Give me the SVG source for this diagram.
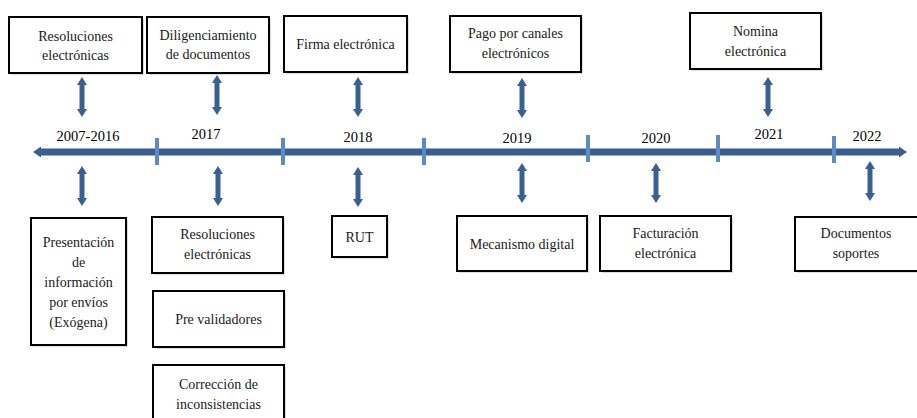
<svg xmlns="http://www.w3.org/2000/svg" width="917" height="418" viewBox="0 0 917 418">
  <style>
    .box { fill: #ffffff; stroke: #000000; stroke-width: 2; }
    .shadow { fill: #c8c8c8; opacity: 0.6; }
    .t { font-family: "Liberation Serif", "Times New Roman", serif; font-size: 14px; fill: #1a1a1a; text-anchor: middle; }
    .yr { font-family: "Liberation Serif", "Times New Roman", serif; font-size: 14.5px; fill: #000000; text-anchor: middle; }
    .tick { stroke: #5b8bc7; stroke-width: 4; }
    .dbl { fill: #3a6090; }
  </style>
  <defs>
    <!-- vertical double-headed arrow, 40px long, origin at top tip -->
    <path id="dblArrow" d="M0,0 L5,8 L2.5,8 L2.5,32 L5,32 L0,40 L-5,32 L-2.5,32 L-2.5,8 L-5,8 Z"/>
  </defs>

  <!-- timeline axis -->
  <g id="timeline">
    <rect x="38" y="148.5" width="862" height="7" fill="#3a5f8e"/>
    <path d="M33,152 L41,146.5 L41,157.5 Z" fill="#3a5f8e"/>
    <path d="M907,152 L899,146.5 L899,157.5 Z" fill="#3a5f8e"/>
    <g>
      <line class="tick" x1="157" y1="138" x2="157" y2="165"/>
      <line class="tick" x1="283" y1="138" x2="283" y2="165"/>
      <line class="tick" x1="424" y1="138" x2="424" y2="165"/>
      <line class="tick" x1="588" y1="135" x2="588" y2="162"/>
      <line class="tick" x1="718" y1="135" x2="718" y2="162"/>
      <line class="tick" x1="834" y1="136" x2="834" y2="163"/>
    </g>
    <text class="yr" x="88" y="141">2007-2016</text>
    <text class="yr" x="206" y="139">2017</text>
    <text class="yr" x="358" y="142">2018</text>
    <text class="yr" x="517" y="143">2019</text>
    <text class="yr" x="656" y="143">2020</text>
    <text class="yr" x="769" y="139">2021</text>
    <text class="yr" x="867" y="141">2022</text>
  </g>

  <!-- connectors between boxes and the axis -->
  <g id="connectors" class="dbl">
    <use href="#dblArrow" x="82" y="77"/>
    <use href="#dblArrow" x="217" y="75"/>
    <use href="#dblArrow" x="358" y="77"/>
    <use href="#dblArrow" x="522" y="78"/>
    <use href="#dblArrow" x="768" y="77"/>
    <use href="#dblArrow" x="82" y="166"/>
    <use href="#dblArrow" x="218" y="166"/>
    <use href="#dblArrow" x="358" y="167"/>
    <use href="#dblArrow" x="522" y="163"/>
    <use href="#dblArrow" x="656" y="163"/>
    <use href="#dblArrow" x="870" y="161"/>
  </g>

  <!-- upper boxes -->
  <g id="n-resoluciones-top">
    <rect class="shadow" x="11" y="19" width="133" height="56"/>
    <rect class="box" x="9" y="17" width="133" height="56"/>
    <text class="t" x="75.5" y="41">Resoluciones</text>
    <text class="t" x="75.5" y="60">electrónicas</text>
  </g>
  <g id="n-diligenciamiento">
    <rect class="shadow" x="149" y="19" width="122" height="56"/>
    <rect class="box" x="147" y="17" width="122" height="56"/>
    <text class="t" x="208" y="40">Diligenciamiento</text>
    <text class="t" x="208" y="59">de documentos</text>
  </g>
  <g id="n-firma">
    <rect class="shadow" x="286" y="18" width="123" height="56"/>
    <rect class="box" x="284" y="16" width="123" height="56"/>
    <text class="t" x="345.5" y="49">Firma electrónica</text>
  </g>
  <g id="n-pago">
    <rect class="shadow" x="452" y="18" width="131" height="56"/>
    <rect class="box" x="450" y="16" width="131" height="56"/>
    <text class="t" x="515.5" y="38">Pago por canales</text>
    <text class="t" x="515.5" y="58">electrónicos</text>
  </g>
  <g id="n-nomina">
    <rect class="shadow" x="692" y="15" width="131" height="56"/>
    <rect class="box" x="690" y="13" width="131" height="56"/>
    <text class="t" x="755.5" y="36">Nomina</text>
    <text class="t" x="755.5" y="56">electrónica</text>
  </g>

  <!-- lower boxes -->
  <g id="n-presentacion">
    <rect class="shadow" x="33" y="220" width="95" height="127"/>
    <rect class="box" x="31" y="218" width="95" height="127"/>
    <text class="t" x="78.5" y="247">Presentación</text>
    <text class="t" x="78.5" y="267">de</text>
    <text class="t" x="78.5" y="287">información</text>
    <text class="t" x="78.5" y="307">por envíos</text>
    <text class="t" x="78.5" y="327">(Exógena)</text>
  </g>
  <g id="n-resoluciones-bottom">
    <rect class="shadow" x="154" y="219" width="131" height="56"/>
    <rect class="box" x="152" y="217" width="131" height="56"/>
    <text class="t" x="217.5" y="239">Resoluciones</text>
    <text class="t" x="217.5" y="259">electrónicas</text>
  </g>
  <g id="n-prevalidadores">
    <rect class="shadow" x="155" y="293" width="131" height="56"/>
    <rect class="box" x="153" y="291" width="131" height="56"/>
    <text class="t" x="218.5" y="324">Pre validadores</text>
  </g>
  <g id="n-correccion">
    <rect class="shadow" x="155" y="367" width="131" height="60"/>
    <rect class="box" x="153" y="365" width="131" height="60"/>
    <text class="t" x="218.5" y="389">Corrección de</text>
    <text class="t" x="218.5" y="409">inconsistencias</text>
  </g>
  <g id="n-rut">
    <rect class="shadow" x="334" y="218" width="55" height="41"/>
    <rect class="box" x="332" y="216" width="55" height="41"/>
    <text class="t" x="359.5" y="242">RUT</text>
  </g>
  <g id="n-mecanismo">
    <rect class="shadow" x="459" y="218" width="130" height="55"/>
    <rect class="box" x="457" y="216" width="130" height="55"/>
    <text class="t" x="522" y="249">Mecanismo digital</text>
  </g>
  <g id="n-facturacion">
    <rect class="shadow" x="602" y="218" width="131" height="55"/>
    <rect class="box" x="600" y="216" width="131" height="55"/>
    <text class="t" x="665.5" y="238">Facturación</text>
    <text class="t" x="665.5" y="258">electrónica</text>
  </g>
  <g id="n-documentos">
    <rect class="shadow" x="797" y="219" width="124" height="54"/>
    <rect class="box" x="795" y="217" width="124" height="54"/>
    <text class="t" x="856" y="238">Documentos</text>
    <text class="t" x="856" y="258">soportes</text>
  </g>
</svg>
